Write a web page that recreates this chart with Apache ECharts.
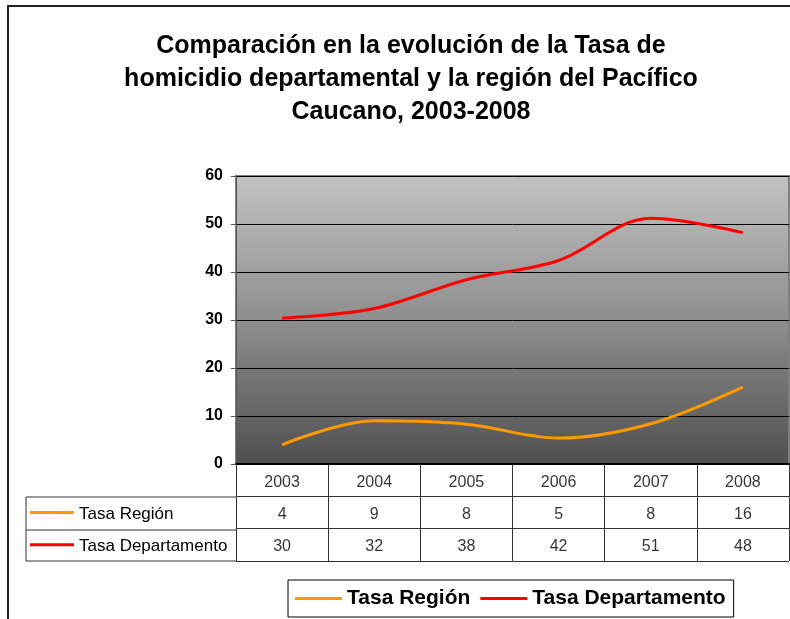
<!DOCTYPE html>
<html>
<head>
<meta charset="utf-8">
<script src="https://cdn.jsdelivr.net/npm/echarts@6/dist/echarts.min.js"></script>
<style>
html,body{margin:0;padding:0;background:#fff;}
#chart{width:790px;height:619px;}
</style>
</head>
<body>
<div id="chart"></div>
<script>
var categories = ['2003', '2004', '2005', '2006', '2007', '2008'];
var regionValues = [4.0, 9.0, 8.3, 5.4, 8.4, 16.0];
var deptValues = [30.4, 32.4, 38.4, 42.4, 51.2, 48.2];
var seriesNames = ['Tasa Región', 'Tasa Departamento'];
var seriesColors = ['#FF9900', '#FF0000'];
var yTicks = { min: 0, max: 60, interval: 10 };
var titleText = 'Comparación en la evolución de la Tasa de\nhomicidio departamental y la región del Pacífico\nCaucano, 2003-2008';

var FONT = '"Liberation Sans", Arial, sans-serif';
var chart = echarts.init(document.getElementById('chart'));

// table cells
var tableRows = [categories, regionValues, deptValues];
var tableData = [];
tableRows.forEach(function (row, r) {
  row.forEach(function (v, c) {
    tableData.push({ value: [c, r], label: { formatter: r === 0 ? String(v) : String(Math.round(v)) } });
  });
});

var option = {
  animation: false,
  backgroundColor: '#fff',
  title: {
    text: titleText,
    left: 406,
    top: 25,
    textAlign: 'center',
    textStyle: { fontFamily: FONT, fontSize: 25, fontWeight: 'bold', color: '#000', lineHeight: 33 }
  },
  legend: {
    data: seriesNames,
    left: 288,
    top: 580,
    height: 37,
    padding: [8, 8, 8, 7],
    itemGap: 10,
    icon: 'rect',
    itemWidth: 47,
    itemHeight: 3,
    borderColor: '#000',
    borderWidth: 1,
    textStyle: { fontFamily: FONT, fontSize: 21, fontWeight: 'bold', color: '#000', lineHeight: 21 }
  },
  grid: [
    {
      left: 236, right: 1, top: 176, bottom: 155,
      show: true,
      backgroundColor: new echarts.graphic.LinearGradient(0, 0, 0, 1, [
        { offset: 0, color: '#c2c2c2' },
        { offset: 0.5, color: '#8e8e8e' },
        { offset: 1, color: '#4f4f4f' }
      ]),
      borderColor: '#808080',
      borderWidth: 2
    },
    {
      left: 236, right: 1, top: 464, height: 97,
      show: false
    }
  ],
  xAxis: [
    {
      type: 'category', gridIndex: 0, data: categories, boundaryGap: true,
      axisLine: { show: true, lineStyle: { color: '#000', width: 2 } },
      axisTick: { show: false },
      axisLabel: { show: false },
      splitLine: { show: false }
    },
    {
      type: 'category', gridIndex: 1, data: categories, boundaryGap: true,
      position: 'top',
      axisLine: { show: false },
      axisTick: { show: false },
      axisLabel: { show: false },
      splitLine: { show: true, lineStyle: { color: '#333', width: 1 } }
    }
  ],
  yAxis: [
    {
      type: 'value', gridIndex: 0, min: yTicks.min, max: yTicks.max, interval: yTicks.interval,
      axisLine: { show: true, lineStyle: { color: '#555', width: 1 } },
      axisTick: { show: true, length: 5, lineStyle: { color: '#555' } },
      axisLabel: { fontFamily: FONT, fontSize: 16, fontWeight: 'bold', color: '#000', margin: 13 },
      splitLine: { show: true, lineStyle: { color: '#000', width: 1 } }
    },
    {
      type: 'category', gridIndex: 1, inverse: true,
      data: ['', seriesNames[0], seriesNames[1]],
      boundaryGap: true,
      axisLine: { show: true, lineStyle: { color: '#333', width: 1 } },
      axisTick: { show: false },
      axisLabel: {
        align: 'left', margin: 206,
        formatter: function (v, i) {
          if (i === 0) return '';
          return '{l' + i + '| }{t|' + v + '}';
        },
        rich: {
          l1: { width: 44, height: 3, backgroundColor: seriesColors[0], lineHeight: 3 },
          l2: { width: 44, height: 3, backgroundColor: seriesColors[1], lineHeight: 3 },
          t: { fontFamily: FONT, fontSize: 17, color: '#000', padding: [3, 0, 0, 5] }
        }
      },
      splitLine: { show: true, lineStyle: { color: '#333', width: 1 } }
    }
  ],
  graphic: [
    { type: 'rect', shape: { x: 8, y: 6, width: 900, height: 700 }, style: { fill: 'none', stroke: '#222', lineWidth: 2 }, silent: true, z: -1 },
    { type: 'line', shape: { x1: 26, y1: 497, x2: 236, y2: 497 }, style: { stroke: '#333', lineWidth: 1 }, silent: true },
    { type: 'line', shape: { x1: 26, y1: 530, x2: 236, y2: 530 }, style: { stroke: '#333', lineWidth: 1 }, silent: true },
    { type: 'line', shape: { x1: 26, y1: 561, x2: 236, y2: 561 }, style: { stroke: '#333', lineWidth: 1 }, silent: true },
    { type: 'line', shape: { x1: 26, y1: 497, x2: 26, y2: 561 }, style: { stroke: '#333', lineWidth: 1 }, silent: true }
  ],
  series: [
    {
      name: seriesNames[0], type: 'line', xAxisIndex: 0, yAxisIndex: 0,
      data: regionValues, smooth: 0.35, symbol: 'none',
      lineStyle: { color: seriesColors[0], width: 3 },
      itemStyle: { color: seriesColors[0] }
    },
    {
      name: seriesNames[1], type: 'line', xAxisIndex: 0, yAxisIndex: 0,
      data: deptValues, smooth: 0.35, symbol: 'none',
      lineStyle: { color: seriesColors[1], width: 3 },
      itemStyle: { color: seriesColors[1] }
    },
    {
      name: 'tabla', type: 'scatter', xAxisIndex: 1, yAxisIndex: 1,
      data: tableData, symbolSize: 1, silent: true,
      itemStyle: { color: 'rgba(0,0,0,0)' },
      label: { show: true, position: 'inside', offset: [0, 2], fontFamily: FONT, fontSize: 16, color: '#000' }
    }
  ]
};
chart.setOption(option);
</script>
</body>
</html>
